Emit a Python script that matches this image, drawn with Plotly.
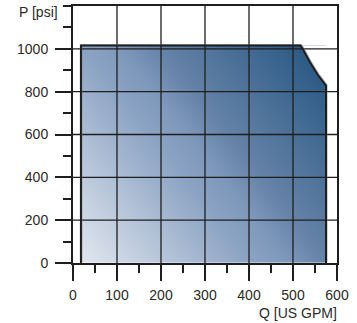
import numpy as np
import plotly.graph_objects as go

# ---- data ----
Q = [18, 18, 517, 522, 539, 556, 575, 575]          # flow, US GPM
P = [0, 1015, 1015, 1000, 936, 880, 828, 0]         # pressure, psi
x_ticks = [0, 100, 200, 300, 400, 500, 600]
y_ticks = [0, 200, 400, 600, 800, 1000]
x_grid = [100, 200, 300, 400, 500]
y_grid = [200, 400, 600, 800, 1000]
X_RANGE = [0, 600]
Y_RANGE = [0, 1200]

qmin, qmax = min(Q), max(Q)
pmin, pmax = min(P), max(P)

# gradient field over the envelope bounding box
nx, ny = 220, 160
xe = np.linspace(qmin, qmax, nx + 1)
ye = np.linspace(pmin, pmax, ny + 1)
xc = (xe[:-1] + xe[1:]) / 2
yc = (ye[:-1] + ye[1:]) / 2
U, V = np.meshgrid((xc - qmin) / (qmax - qmin), (yc - pmin) / (pmax - pmin))
Z = 0.59 * U + 0.41 * V

fig = go.Figure()
fig.add_trace(go.Heatmap(
    x=xe, y=ye, z=Z, zmin=0, zmax=1, showscale=False, hoverinfo="skip",
    colorscale=[[0, "#e2e7ef"], [0.41, "#8ba3c3"], [0.5, "#7e98bb"],
                [0.59, "#6683a8"], [1, "#21537f"]],
))

# white mask above the sloped part of the envelope
top_idx = [i for i in range(1, len(Q) - 1) if Q[i] > qmin]
mx = [Q[i] for i in top_idx] + [qmax]
my = [P[i] for i in top_idx] + [pmax]
fig.add_trace(go.Scatter(x=mx, y=my, fill="toself", fillcolor="white",
                         mode="none", hoverinfo="skip", showlegend=False))

# grid lines drawn above the fill
gx, gy = [], []
for v in x_grid:
    gx += [v, v, None]
    gy += [Y_RANGE[0], Y_RANGE[1], None]
for v in y_grid:
    gx += [X_RANGE[0], X_RANGE[1], None]
    gy += [v, v, None]
fig.add_trace(go.Scatter(x=gx, y=gy, mode="lines",
                         line=dict(color="#1e1e1e", width=1.3),
                         hoverinfo="skip", showlegend=False))

# envelope outline shadow + outline
fig.add_trace(go.Scatter(x=[q + 2 for q in Q], y=[p + 4 for p in P], mode="lines",
                         line=dict(color="rgba(120,120,120,0.5)", width=1.5),
                         hoverinfo="skip", showlegend=False))
fig.add_trace(go.Scatter(x=Q, y=P, mode="lines",
                         line=dict(color="#1e1e1e", width=2),
                         hoverinfo="skip", showlegend=False))

font = dict(family="Liberation Sans, Arial, sans-serif", size=14, color="#2a2a2a")
axis_common = dict(
    showgrid=False, zeroline=False, showline=True, linecolor="#1e1e1e", linewidth=2,
    mirror=True, ticks="outside", ticklen=16, tickwidth=2, tickcolor="#1e1e1e",
    tickfont=font, layer="above traces", fixedrange=True, automargin=False,
)
fig.update_xaxes(range=X_RANGE, tickvals=x_ticks, ticklabelstandoff=2,
                 minor=dict(ticks="outside", ticklen=8, tickwidth=1.5, tickcolor="#1e1e1e",
                            dtick=50, tick0=0, showgrid=False), **axis_common)
fig.update_yaxes(range=Y_RANGE, tickvals=y_ticks, ticklabelstandoff=4,
                 minor=dict(ticks="outside", ticklen=8, tickwidth=1.5, tickcolor="#1e1e1e",
                            dtick=100, tick0=0, showgrid=False), **axis_common)

fig.add_annotation(text="P [psi]", xref="paper", yref="paper", x=0, y=1,
                   xanchor="right", yanchor="middle", xshift=-13, yshift=-6,
                   showarrow=False, font=font)
fig.add_annotation(text="Q [US GPM]", xref="paper", yref="paper", x=1, y=0,
                   xanchor="right", yanchor="middle", xshift=2, yshift=-50,
                   showarrow=False, font=font)

fig.update_layout(
    width=357, height=323, margin=dict(l=73, r=20, t=6, b=60, autoexpand=False),
    plot_bgcolor="white", paper_bgcolor="white", showlegend=False, font=font,
)
fig.write_html("out.html", config={"displayModeBar": False},
               post_script="document.body.style.margin='0px';document.body.style.overflow='hidden';")
